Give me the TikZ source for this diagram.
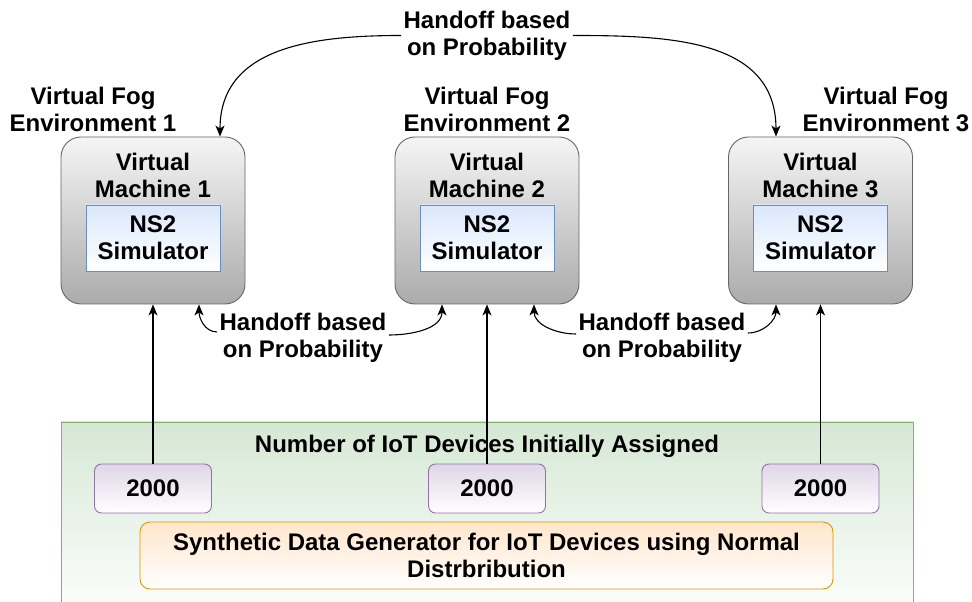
\documentclass[tikz,border=0pt]{standalone}
\usepackage{fontspec}
\setmainfont{Liberation Sans}
\usepackage{xcolor}
\usetikzlibrary{arrows.meta}

\definecolor{vmline}{HTML}{666666}
\definecolor{vmtop}{HTML}{F5F5F5}
\definecolor{vmbot}{HTML}{ABABAB}
\definecolor{simline}{HTML}{6C8EBF}
\definecolor{simtop}{HTML}{DAE8FC}
\definecolor{cntline}{HTML}{9673A6}
\definecolor{cnttop}{HTML}{E1D5E7}
\definecolor{genline}{HTML}{D79B00}
\definecolor{gentop}{HTML}{FFE6CC}
\definecolor{poolline}{HTML}{82B366}
\definecolor{pooltop}{HTML}{D5E8D4}

\begin{document}
\begin{tikzpicture}[->, >={Stealth[length=11pt,width=9pt,inset=3pt]}, x=1pt, y=1pt, line width=1.1pt,
		every node/.style={font=\bfseries\fontsize{24}{27}\selectfont, align=center, inner sep=2pt},
		vm/.style={draw=vmline, line width=0.9pt, rounded corners=20pt, minimum width=184pt, minimum height=167pt, top color=vmtop, bottom color=vmbot},
		sim/.style={draw=simline, line width=0.9pt, minimum width=134pt, minimum height=66pt, top color=simtop, bottom color=white},
		cnt/.style={draw=cntline, line width=0.9pt, rounded corners=7pt, minimum width=117pt, minimum height=49pt, top color=cnttop, bottom color=white},
		gen/.style={draw=genline, line width=0.9pt, rounded corners=10pt, minimum width=693pt, minimum height=67pt, top color=gentop, bottom color=white},
		pool/.style={draw=poolline, line width=0.9pt, minimum width=852pt, minimum height=200pt, top color=pooltop, bottom color=white}]
			\useasboundingbox (0,0) rectangle (972,602);

			\node[pool] (pool) at (487,80) {};
			\node (pt) at (487,156) {Number of IoT Devices Initially Assigned};

			\node[vm] (vm1) at (153,381.5) {};
			\node[vm] (vm2) at (487,381.5) {};
			\node[vm] (vm3) at (820.5,381.5) {};
			\node (vt1) at (153,426.5) {Virtual\\Machine 1};
			\node (vt2) at (487,426.5) {Virtual\\Machine 2};
			\node (vt3) at (820.5,426.5) {Virtual\\Machine 3};
			\node[sim] (ns1) at (153,364) {NS2\\Simulator};
			\node[sim] (ns2) at (487,364) {NS2\\Simulator};
			\node[sim] (ns3) at (820.5,364) {NS2\\Simulator};

			\node (env1) at (93,493) {Virtual Fog\\Environment 1};
			\node (env2) at (487,493) {Virtual Fog\\Environment 2};
			\node (env3) at (886,493) {Virtual Fog\\Environment 3};

			\node (hp) at (487,566.5) {Handoff based\\on Probability};
			\node (hb1) at (303,264) {Handoff based\\on Probability};
			\node (hb2) at (662,264) {Handoff based\\on Probability};

			\node[cnt] (n1) at (153,113.5) {2000};
			\node[cnt] (n2) at (487,113.5) {2000};
			\node[cnt] (n3) at (820.5,113.5) {2000};
			\node[gen] (gen) at (486.5,46.5) {Synthetic Data Generator for IoT Devices using Normal\\Distrbribution};

			\path (hp.west) edge [out=180, in=90, looseness=1.1] ([xshift=67pt]vm1.north);
			\path (hp.east) edge [out=0, in=90, looseness=1.1] ([xshift=-44.5pt]vm3.north);
			\path ([yshift=6pt]hb1.west) edge [out=180, in=-90] ([xshift=46pt]vm1.south);
			\path ([yshift=3pt]hb1.east) edge [out=0, in=-90] ([xshift=-45pt]vm2.south);
			\path ([yshift=4pt]hb2.west) edge [out=180, in=-90] ([xshift=47pt]vm2.south);
			\path ([yshift=5pt]hb2.east) edge [out=0, in=-90] ([xshift=-44.5pt]vm3.south);
			\path (n1) edge (vm1);
			\path (n2) edge (vm2);
			\path (n3) edge (vm3);
		\end{tikzpicture}
\end{document}
